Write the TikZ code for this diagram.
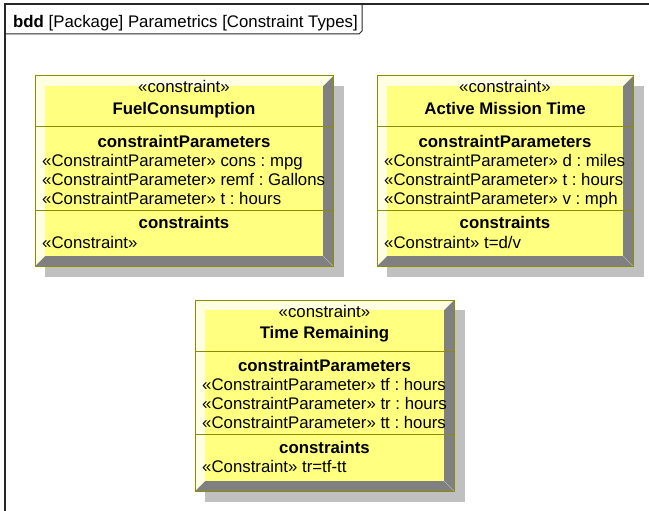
\documentclass[tikz,border=0pt]{standalone}
\usepackage{fontspec}
\setmainfont{Liberation Sans}
\frenchspacing

\definecolor{blockface}{HTML}{FFFF80}
\definecolor{blocklight}{HTML}{FFFFE2}
\definecolor{blockdark}{HTML}{808080}
\definecolor{blockline}{HTML}{8C8C00}
\definecolor{blockshadow}{HTML}{C0C0C0}

\begin{document}
\begin{tikzpicture}[x=1pt, y=-1pt, every node/.style={font=\fontsize{16.8}{19}\selectfont}]
  \tikzstyle{centred}=[inner sep=0pt, anchor=base]
  \tikzstyle{heading}=[centred, font=\fontsize{16.8}{19}\selectfont\bfseries]
  \tikzstyle{entry}=[inner sep=0pt, anchor=base west]
  \tikzstyle{frame}=[draw=black!85, line width=1.3pt]
  \tikzstyle{shadow}=[fill=blockshadow]
  \tikzstyle{lightbevel}=[fill=blocklight]
  \tikzstyle{darkbevel}=[fill=blockdark]
  \tikzstyle{face}=[fill=blockface]
  \tikzstyle{outline}=[draw=blockline, line width=1pt]
  \tikzstyle{seam}=[draw=blockdark!60, line width=0.6pt]

  \useasboundingbox (0, 0) rectangle (649, 511);

  % diagram frame
  \draw[frame] (5, 511) -- (5, 4) -- (649, 4);
  \draw[frame, line width=1pt] (5, 34) -- (359, 34) -- (362, 31) -- (362, 4);
  \node (title) at (13, 27.5) [entry] {\textbf{bdd} [Package] Parametrics [Constraint Types]};

  % FuelConsumption
  \fill[shadow] (45, 86) rectangle (344, 277);
  \fill[darkbevel] (35, 76) rectangle (333, 266);
  \fill[lightbevel] (35, 76) -- (333, 76) -- (323, 86) -- (45, 86) -- (45, 256) -- (35, 266) -- cycle;
  \fill[face] (45, 86) rectangle (323, 256);
  \draw[seam] (323, 256) -- (333, 266);
  \draw[outline] (35, 76) rectangle (333, 266);
  \draw[outline] (35, 127) -- (333, 127);
  \draw[outline] (35, 210) -- (333, 210);
  \node (fuelstereo) at (184, 93) [centred] {«constraint»};
  \node (fuelname) at (184, 114) [heading] {FuelConsumption};
  \node (fuelparams) at (184, 147) [heading] {constraintParameters};
  \node (fuelcons) at (42, 166.5) [entry] {«ConstraintParameter» cons : mpg};
  \node (fuelremf) at (42, 185.5) [entry] {«ConstraintParameter» remf : Gallons};
  \node (fuelt) at (42, 204.5) [entry] {«ConstraintParameter» t : hours};
  \node (fuelconstraints) at (184, 229) [heading] {constraints};
  \node (fuelrule) at (42, 248) [entry] {«Constraint»};

  % Active Mission Time
  \fill[shadow] (387, 86) rectangle (644, 277);
  \fill[darkbevel] (377, 76) rectangle (633, 266);
  \fill[lightbevel] (377, 76) -- (633, 76) -- (623, 86) -- (387, 86) -- (387, 256) -- (377, 266) -- cycle;
  \fill[face] (387, 86) rectangle (623, 256);
  \draw[seam] (623, 256) -- (633, 266);
  \draw[outline] (377, 76) rectangle (633, 266);
  \draw[outline] (377, 127) -- (633, 127);
  \draw[outline] (377, 210) -- (633, 210);
  \node (missionstereo) at (505, 93) [centred] {«constraint»};
  \node (missionname) at (505, 114) [heading] {Active Mission Time};
  \node (missionparams) at (505, 147) [heading] {constraintParameters};
  \node (missiond) at (384, 166.5) [entry] {«ConstraintParameter» d : miles};
  \node (missiont) at (384, 185.5) [entry] {«ConstraintParameter» t : hours};
  \node (missionv) at (384, 204.5) [entry] {«ConstraintParameter» v : mph};
  \node (missionconstraints) at (505, 229) [heading] {constraints};
  \node (missionrule) at (384, 248) [entry] {«Constraint» t=d/v};

  % Time Remaining
  \fill[shadow] (205, 310) rectangle (465, 502);
  \fill[darkbevel] (195, 300) rectangle (454, 491);
  \fill[lightbevel] (195, 300) -- (454, 300) -- (444, 310) -- (205, 310) -- (205, 481) -- (195, 491) -- cycle;
  \fill[face] (205, 310) rectangle (444, 481);
  \draw[seam] (444, 481) -- (454, 491);
  \draw[outline] (195, 300) rectangle (454, 491);
  \draw[outline] (195, 351.5) -- (454, 351.5);
  \draw[outline] (195, 434) -- (454, 434);
  \node (remainstereo) at (324.5, 317) [centred] {«constraint»};
  \node (remainname) at (324.5, 338) [heading] {Time Remaining};
  \node (remainparams) at (324.5, 371) [heading] {constraintParameters};
  \node (remaintf) at (202, 390.5) [entry] {«ConstraintParameter» tf : hours};
  \node (remaintr) at (202, 409.5) [entry] {«ConstraintParameter» tr : hours};
  \node (remaintt) at (202, 428.5) [entry] {«ConstraintParameter» tt : hours};
  \node (remainconstraints) at (324.5, 453) [heading] {constraints};
  \node (remainrule) at (202, 472) [entry] {«Constraint» tr=tf-tt};
\end{tikzpicture}
\end{document}
